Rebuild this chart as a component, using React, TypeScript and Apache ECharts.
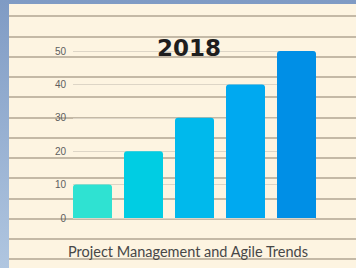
import React, { useEffect, useRef } from "react";
import * as echarts from "echarts";

const categories = ["A", "B", "C", "D", "E"];
const values = [10, 20, 30, 40, 50];
const barColors = ["#2FE2D2", "#00CDE3", "#00B9EC", "#00A9F0", "#008FE6"];
const yTicks = [0, 10, 20, 30, 40, 50];
const titleText = "2018";
const subtitleText = "Project Management and Agile Trends";

export default function App() {
  const ref = useRef<HTMLDivElement>(null);
  useEffect(() => {
    document.body.style.margin = "0";
    const chart = echarts.init(ref.current!, null, { renderer: "svg" });
    chart.setOption({
      animation: false,
      graphic: [
        {
          type: "rect",
          z: -10,
          shape: { x: 0, y: 0, width: 356, height: 268 },
          style: {
            fill: new echarts.graphic.LinearGradient(0, 0, 0, 1, [
              { offset: 0, color: "#7F9BC4" },
              { offset: 1, color: "#B0C6E0" },
            ]),
          },
          silent: true,
        },
        {
          type: "rect",
          z: -9,
          shape: { x: 9, y: 4, width: 347, height: 264 },
          style: { fill: "#FDF4E1" },
          silent: true,
        },
        {
          type: "text",
          z: 100,
          x: 189,
          y: 48,
          style: {
            text: titleText,
            fontFamily: "DejaVu Sans",
            fontWeight: "bold",
            fontSize: 23,
            fill: "#1E1E1E",
            textAlign: "center",
            textVerticalAlign: "middle",
          },
        },
        {
          type: "text",
          z: 100,
          x: 188,
          y: 251,
          style: {
            text: subtitleText,
            fontFamily: "Lato",
            fontWeight: 400,
            fontSize: 14.5,
            fill: "#474747",
            textAlign: "center",
            textVerticalAlign: "middle",
          },
        },
      ],
      grid: [
        { left: 9, right: 0, top: 16, height: 243 },
        { left: 73, right: 41, top: 51, bottom: 50 },
        { left: 67, right: 34, top: 51, bottom: 50 },
      ],
      xAxis: [
        { gridIndex: 0, type: "value", min: 0, max: 1, show: false },
        { gridIndex: 1, type: "value", min: 0, max: 1, show: false },
        { gridIndex: 2, type: "category", data: categories, show: false },
      ],
      yAxis: [
        {
          gridIndex: 0,
          type: "value",
          min: 0,
          max: 12,
          interval: 1,
          axisLine: { show: false },
          axisTick: { show: false },
          axisLabel: { show: false },
          splitLine: { show: true, lineStyle: { color: "#C4B9A6", width: 2 } },
          z: 0,
        },
        {
          gridIndex: 1,
          type: "value",
          min: yTicks[0],
          max: yTicks[yTicks.length - 1],
          interval: 10,
          axisLine: { show: false },
          axisTick: { show: false },
          axisLabel: {
            color: "#5E5E5E",
            fontSize: 10,
            fontFamily: "Liberation Sans",
            margin: 7,
          },
          splitLine: { show: true, lineStyle: { color: "#DDD5C6", width: 1 } },
        },
        {
          gridIndex: 2,
          type: "value",
          min: 0,
          max: 50,
          show: false,
          splitLine: { show: false },
        },
      ],
      series: [
        {
          type: "bar",
          xAxisIndex: 2,
          yAxisIndex: 2,
          barWidth: 39,
          z: 5,
          data: values.map((v, i) => ({
            value: v,
            itemStyle: { color: barColors[i], borderRadius: [3, 3, 0, 0] },
          })),
        },
      ],
    });
    return () => chart.dispose();
  }, []);
  return <div ref={ref} style={{ width: 356, height: 268 }} />;
}
